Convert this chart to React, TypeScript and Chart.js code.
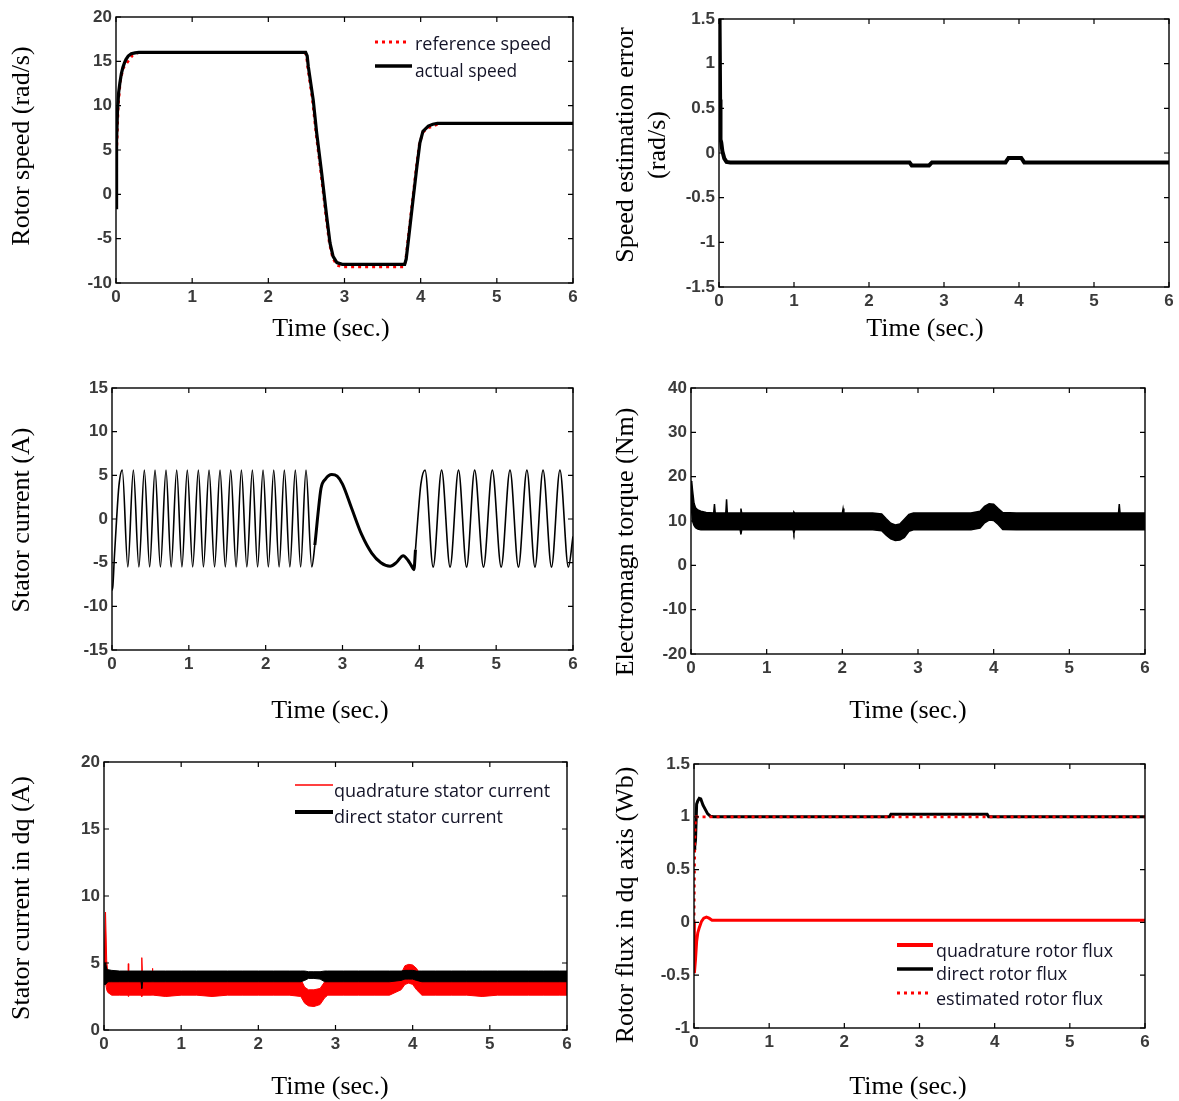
import React, { useEffect, useRef } from 'react';
import { Chart, registerables } from 'chart.js';

Chart.register(...registerables);

// ---------------- shared axis ticks ----------------
const timeTicks = [0, 1, 2, 3, 4, 5, 6];

// ---------------- Panel 1: rotor speed ----------------
const actualTime = [0, 0.005, 0.01, 0.02, 0.035, 0.05, 0.07, 0.09, 0.11, 0.13, 0.16, 0.2, 0.25, 0.3, 2.49, 2.51, 2.525, 2.59, 2.635, 2.7, 2.766, 2.81, 2.85, 2.9, 2.97, 3.02, 3.79, 3.81, 3.84, 3.9, 3.95, 3.99, 4.03, 4.1, 4.16, 4.22, 6.0];
const actualSpeed = [-1.5, 2, 6, 9.5, 11.5, 12.5, 13.6, 14.3, 14.8, 15.2, 15.6, 15.85, 15.95, 16.0, 16.0, 15.6, 14.4, 10.6, 6.9, 2.4, -2.5, -5.5, -7.0, -7.7, -7.9, -7.9, -7.9, -7.3, -5.1, -0.6, 3.1, 5.8, 7.1, 7.7, 7.9, 8.0, 8.0];
const refTime = [0, 0.01, 0.03, 0.06, 0.1, 0.16, 0.22, 0.3, 2.48, 2.5, 2.515, 2.577, 2.625, 2.69, 2.756, 2.8, 2.845, 2.9, 2.97, 3.78, 3.8, 3.83, 3.89, 3.94, 3.98, 4.03, 4.1, 4.17, 4.22, 4.3, 6.0];
const refSpeed = [0, 5, 10, 13, 14.3, 15.0, 15.7, 16.0, 16.0, 15.6, 14.4, 10.75, 6.9, 2.4, -2.5, -5.5, -7.2, -8.0, -8.2, -8.2, -7.6, -5.3, -0.8, 2.9, 5.6, 7.0, 7.5, 7.7, 7.9, 8.0, 8.0];

// ---------------- Panel 2: speed estimation error ----------------
const errTime = [0, 0.008, 0.015, 0.02, 0.03, 0.045, 0.07, 0.1, 0.15, 2.54, 2.57, 2.8, 2.84, 3.82, 3.86, 4.03, 4.07, 6.0];
const errValue = [1.5, 1.45, 0.6, 0.15, 0.12, 0.02, -0.06, -0.1, -0.105, -0.105, -0.14, -0.14, -0.105, -0.105, -0.055, -0.055, -0.105, -0.105];

// ---------------- Panel 3: stator current ----------------
const statorTime = [
  0, 0.012, 0.03, 0.06, 0.09, 0.134,
  0.206, 0.278, 0.35, 0.421, 0.49, 0.56, 0.63, 0.703, 0.77, 0.842, 0.91, 0.98, 1.05, 1.124, 1.19, 1.263, 1.335, 1.406,
  1.475, 1.545, 1.615, 1.684, 1.755, 1.827, 1.895, 1.966, 2.035, 2.105, 2.175, 2.243, 2.315, 2.386, 2.455, 2.525, 2.6,
  2.64, 2.68, 2.72, 2.78, 2.86, 2.93, 3.0, 3.12, 3.25, 3.38, 3.5, 3.62, 3.7, 3.79, 3.85, 3.9, 3.93,
  3.95, 3.98, 4.02, 4.074, 4.18, 4.29, 4.4, 4.51, 4.615, 4.72, 4.835, 4.95, 5.065, 5.18, 5.29, 5.4, 5.505, 5.61, 5.72, 5.83, 5.94, 6.0,
];
const statorCurrent = [
  -8.2, -7.6, -4.5, 0, 3.8, 5.6,
  -5.5, 5.6, -5.5, 5.6, -5.5, 5.6, -5.5, 5.6, -5.5, 5.6, -5.5, 5.6, -5.5, 5.6, -5.5, 5.6, -5.5, 5.6,
  -5.5, 5.6, -5.5, 5.6, -5.5, 5.6, -5.5, 5.6, -5.5, 5.6, -5.5, 5.6, -5.5, 5.6, -5.5, 5.6, -5.5,
  -3.0, 0.5, 3.5, 4.6, 5.1, 4.9, 4.0, 1.2, -1.8, -3.9, -5.0, -5.4, -5.0, -4.2, -4.7, -5.4, -5.8,
  -3.5, 0, 4.0, 5.6, -5.5, 5.6, -5.5, 5.6, -5.5, 5.6, -5.5, 5.6, -5.5, 5.6, -5.5, 5.6, -5.5, 5.6, -5.5, 5.6, -5.5, -2.0,
];

// ---------------- Panel 4: electromagnetic torque (noise band envelope) ----------------
const torqueTime = [0, 0.01, 0.02, 0.04, 0.06, 0.09, 0.13, 0.2, 0.3, 0.31, 0.32, 0.46, 0.47, 0.48, 0.6, 0.65, 0.66, 0.67, 0.8, 1.0, 1.2, 1.35, 1.36, 1.37, 1.5, 1.7, 1.9, 2.0, 2.01, 2.02, 2.2, 2.4, 2.52, 2.58, 2.64, 2.7, 2.76, 2.82, 2.88, 2.94, 3.1, 3.3, 3.5, 3.7, 3.82, 3.88, 3.94, 4.0, 4.06, 4.12, 4.3, 4.5, 4.7, 4.9, 5.1, 5.3, 5.5, 5.65, 5.66, 5.67, 5.85, 6.0];
const torqueUpper = [19, 18.8, 17, 14, 13, 12.5, 12.2, 11.9, 11.8, 13.8, 11.8, 11.8, 14.9, 11.8, 11.8, 11.8, 12.8, 11.8, 11.8, 11.8, 11.8, 11.8, 12.0, 11.8, 11.8, 11.8, 11.8, 11.8, 12.8, 11.8, 11.8, 11.8, 11.6, 10.5, 9.5, 9.1, 9.3, 10.4, 11.5, 11.8, 11.8, 11.8, 11.8, 11.8, 12.2, 13.3, 13.9, 13.8, 12.8, 11.9, 11.8, 11.8, 11.8, 11.8, 11.8, 11.8, 11.8, 11.8, 13.8, 11.8, 11.8, 11.8];
const torqueLower = [15, 12, 10, 9, 8.5, 8.2, 8.0, 8.0, 8.0, 8.0, 8.0, 8.0, 8.0, 8.0, 8.0, 8.0, 7.0, 8.0, 8.0, 8.0, 8.0, 8.0, 7.2, 8.0, 8.0, 8.0, 8.0, 8.0, 8.0, 8.0, 8.0, 8.0, 7.8, 6.8, 6.0, 5.6, 5.7, 6.3, 7.7, 8.0, 8.0, 8.0, 8.0, 8.0, 8.4, 9.6, 10.2, 10.1, 9.2, 8.1, 8.0, 8.0, 8.0, 8.0, 8.0, 8.0, 8.0, 8.0, 8.0, 8.0, 8.0, 8.0];

// ---------------- Panel 5: dq stator currents (noise band envelopes) ----------------
const dqTime = [0, 0.02, 0.025, 0.035, 0.05, 0.1, 0.2, 0.31, 0.315, 0.32, 0.48, 0.49, 0.5, 0.62, 0.63, 0.64, 0.8, 1.0, 1.2, 1.4, 1.6, 1.8, 2.0, 2.2, 2.4, 2.55, 2.6, 2.65, 2.72, 2.8, 2.86, 2.9, 3.1, 3.3, 3.5, 3.7, 3.85, 3.9, 3.95, 4.0, 4.05, 4.12, 4.3, 4.5, 4.7, 4.9, 5.1, 5.3, 5.5, 5.7, 5.9, 6.0];
const quadUpper = [4.5, 8.8, 8.8, 5.2, 4.2, 3.9, 3.9, 3.9, 4.95, 3.9, 3.9, 5.4, 3.9, 3.9, 4.6, 3.9, 3.9, 3.9, 3.9, 3.9, 3.9, 3.9, 3.9, 3.9, 3.9, 3.8, 3.2, 3.0, 3.0, 3.1, 3.6, 3.8, 3.9, 3.9, 3.9, 3.9, 4.2, 4.8, 4.9, 4.85, 4.6, 3.9, 3.9, 3.9, 3.9, 3.9, 3.9, 3.9, 3.9, 3.9, 3.9, 3.9];
const quadLower = [3.5, 3.5, 3.5, 3.0, 2.8, 2.6, 2.6, 2.6, 2.5, 2.6, 2.6, 2.5, 2.6, 2.6, 2.6, 2.6, 2.5, 2.6, 2.6, 2.5, 2.6, 2.6, 2.6, 2.6, 2.6, 2.5, 2.0, 1.8, 1.75, 1.9, 2.4, 2.6, 2.6, 2.6, 2.6, 2.6, 3.0, 3.4, 3.5, 3.4, 3.0, 2.6, 2.6, 2.6, 2.6, 2.5, 2.6, 2.6, 2.6, 2.6, 2.6, 2.6];
const directUpper = [5.0, 5.0, 5.0, 4.6, 4.5, 4.45, 4.4, 4.4, 4.4, 4.4, 4.4, 4.4, 4.4, 4.4, 4.4, 4.4, 4.4, 4.4, 4.4, 4.4, 4.4, 4.4, 4.4, 4.4, 4.4, 4.4, 4.4, 4.35, 4.35, 4.35, 4.4, 4.4, 4.4, 4.4, 4.4, 4.4, 4.4, 4.45, 4.45, 4.45, 4.4, 4.4, 4.4, 4.4, 4.4, 4.4, 4.4, 4.4, 4.4, 4.4, 4.4, 4.4];
const directLower = [3.4, 3.4, 3.4, 3.5, 3.6, 3.6, 3.6, 3.6, 3.6, 3.6, 3.6, 3.1, 3.6, 3.6, 3.6, 3.6, 3.6, 3.6, 3.6, 3.6, 3.6, 3.6, 3.6, 3.6, 3.6, 3.6, 3.7, 3.85, 3.85, 3.8, 3.6, 3.6, 3.6, 3.6, 3.6, 3.6, 3.7, 3.8, 3.8, 3.8, 3.7, 3.6, 3.6, 3.6, 3.6, 3.6, 3.6, 3.6, 3.6, 3.6, 3.6, 3.6];

// ---------------- Panel 6: rotor flux ----------------
const directFluxTime = [0, 0.01, 0.02, 0.035, 0.05, 0.07, 0.09, 0.12, 0.15, 0.18, 0.22, 0.26, 2.6, 2.62, 3.9, 3.92, 6.0];
const directFlux = [0.7, 0.72, 0.78, 1.12, 1.15, 1.175, 1.17, 1.11, 1.07, 1.03, 1.005, 1.0, 1.0, 1.025, 1.025, 1.0, 1.0];
const quadFluxTime = [0, 0.005, 0.02, 0.035, 0.05, 0.07, 0.1, 0.13, 0.165, 0.2, 0.24, 6.0];
const quadFlux = [0, -0.48, -0.35, -0.18, -0.1, -0.05, 0.01, 0.04, 0.05, 0.04, 0.02, 0.02];
const estFluxTime = [0, 0.005, 0.01, 0.015, 0.02, 0.03, 6.0];
const estFlux = [0, 0.45, 0.75, 0.9, 0.97, 1.0, 1.0];

// ---------------- styling ----------------
const TICK_FONT = { family: "'Liberation Sans', Arial, sans-serif", size: 17, weight: 'bold' };
const TICK_COLOR = '#3a3a3a';
const TITLE_FONT = "26px 'Liberation Serif', 'Times New Roman', serif";
const LEGEND_FONT = "18px 'Open Sans', 'Noto Sans', sans-serif";

const pts = (t: number[], v: number[]) => t.map((x, i) => ({ x, y: v[i] }));

const line = (data: any, color: string, width: number, extra: any = {}) => ({
  data,
  borderColor: color,
  backgroundColor: color,
  borderWidth: width,
  pointRadius: 0,
  fill: false,
  tension: 0,
  ...extra,
});

const panels: any[] = [
  {
    id: 'p1',
    box: { left: 0, top: 0, w: 592, h: 365 },
    plot: { l: 116, t: 17, r: 573, b: 283 },
    y: { min: -10, max: 20, step: 5 },
    datasets: () => [
      line(pts(actualTime, actualSpeed), '#000', 3.2),
      line(pts(refTime, refSpeed), '#ff0000', 2.6, { borderDash: [3, 4] }),
    ],
    titles: [
      { text: 'Rotor speed (rad/s)', x: 22, y: 146, rot: true },
      { text: 'Time (sec.)', x: 331, y: 329 },
    ],
    legend: [
      { x1: 375, x2: 407, y: 42, color: '#ff0000', width: 3, dash: [3, 4], text: 'reference speed', tx: 415, ty: 45, tw: 138 },
      { x1: 375, x2: 412, y: 66, color: '#000', width: 3.5, text: 'actual speed', tx: 415, ty: 72, tw: 102 },
    ],
  },
  {
    id: 'p2',
    box: { left: 595, top: 0, w: 584, h: 365 },
    plot: { l: 719, t: 19, r: 1169, b: 287 },
    y: { min: -1.5, max: 1.5, step: 0.5 },
    datasets: () => [line(pts(errTime, errValue), '#000', 4)],
    titles: [
      { text: 'Speed estimation error', x: 626, y: 145, rot: true },
      { text: '(rad/s)', x: 658, y: 145, rot: true },
      { text: 'Time (sec.)', x: 925, y: 329 },
    ],
    legend: [],
  },
  {
    id: 'p3',
    box: { left: 0, top: 365, w: 592, h: 375 },
    plot: { l: 112, t: 388, r: 573, b: 650 },
    y: { min: -15, max: 15, step: 5 },
    datasets: () => [
      line(pts(statorTime, statorCurrent), '#000', 1.6, {
        cubicInterpolationMode: 'monotone',
        segment: {
          borderWidth: (c: any) => (c.p0.parsed.x >= 2.64 && c.p1.parsed.x <= 3.95 ? 3 : 1.6),
        },
      }),
    ],
    titles: [
      { text: 'Stator current (A)', x: 22, y: 520, rot: true },
      { text: 'Time (sec.)', x: 330, y: 711 },
    ],
    legend: [],
  },
  {
    id: 'p4',
    box: { left: 595, top: 365, w: 584, h: 375 },
    plot: { l: 691, t: 388, r: 1145, b: 654 },
    y: { min: -20, max: 40, step: 10 },
    datasets: () => [
      line(pts(torqueTime, torqueUpper), '#000', 1.5, { fill: '+1' }),
      line(pts(torqueTime, torqueLower), '#000', 1.5),
    ],
    titles: [
      { text: 'Electromagn torque (Nm)', x: 626, y: 542, rot: true },
      { text: 'Time (sec.)', x: 908, y: 711 },
    ],
    legend: [],
  },
  {
    id: 'p5',
    box: { left: 0, top: 740, w: 592, h: 361 },
    plot: { l: 104, t: 762, r: 567, b: 1030 },
    y: { min: 0, max: 20, step: 5 },
    datasets: () => [
      line(pts(dqTime, directUpper), '#000', 1, { fill: '+1' }),
      line(pts(dqTime, directLower), '#000', 1),
      line(pts(dqTime, quadUpper), '#ff0000', 1, { fill: '+1' }),
      line(pts(dqTime, quadLower), '#ff0000', 1),
    ],
    titles: [
      { text: 'Stator current in dq (A)', x: 22, y: 898, rot: true },
      { text: 'Time (sec.)', x: 330, y: 1087 },
    ],
    legend: [
      { x1: 295, x2: 333, y: 785, color: '#ff0000', width: 1.6, text: 'quadrature stator current', tx: 334, ty: 792, tw: 221 },
      { x1: 295, x2: 333, y: 812, color: '#000', width: 4, text: 'direct stator current', tx: 334, ty: 818, tw: 176 },
    ],
  },
  {
    id: 'p6',
    box: { left: 595, top: 740, w: 584, h: 361 },
    plot: { l: 694, t: 764, r: 1145, b: 1028 },
    y: { min: -1, max: 1.5, step: 0.5 },
    datasets: () => [
      line(pts(estFluxTime, estFlux), '#ff0000', 2.8, { borderDash: [3, 4] }),
      line(pts(directFluxTime, directFlux), '#000', 3),
      line(pts(quadFluxTime, quadFlux), '#ff0000', 3),
    ],
    titles: [
      { text: 'Rotor flux in dq axis (Wb)', x: 626, y: 905, rot: true },
      { text: 'Time (sec.)', x: 908, y: 1087 },
    ],
    legend: [
      { x1: 897, x2: 933, y: 945, color: '#ff0000', width: 4, text: 'quadrature rotor flux', tx: 936, ty: 952, tw: 177 },
      { x1: 897, x2: 933, y: 969, color: '#000', width: 3.5, text: 'direct rotor flux', tx: 936, ty: 975, tw: 134 },
      { x1: 897, x2: 931, y: 993, color: '#ff0000', width: 3, dash: [3, 4], text: 'estimated rotor flux', tx: 936, ty: 1000, tw: 167 },
    ],
  },
];

const fmtTick = (v: any) => String(Math.round(Number(v) * 100) / 100);

function Panel({ cfg }: { cfg: any }) {
  const ref = useRef<HTMLCanvasElement | null>(null);
  useEffect(() => {
    const canvas = ref.current;
    if (!canvas) return;
    const { box, plot } = cfg;
    const ox = box.left;
    const oy = box.top;
    const decor = {
      id: 'decor_' + cfg.id,
      afterDraw(chart: any) {
        const { ctx, chartArea: a, scales } = chart;
        ctx.save();
        // frame
        ctx.strokeStyle = '#000';
        ctx.lineWidth = 1.4;
        ctx.setLineDash([]);
        ctx.strokeRect(a.left, a.top, a.right - a.left, a.bottom - a.top);
        // inward ticks on all four sides
        const L = 5;
        ctx.beginPath();
        scales.x.ticks.forEach((tk: any) => {
          const px = scales.x.getPixelForValue(tk.value);
          ctx.moveTo(px, a.bottom);
          ctx.lineTo(px, a.bottom - L);
          ctx.moveTo(px, a.top);
          ctx.lineTo(px, a.top + L);
        });
        scales.y.ticks.forEach((tk: any) => {
          const py = scales.y.getPixelForValue(tk.value);
          ctx.moveTo(a.left, py);
          ctx.lineTo(a.left + L, py);
          ctx.moveTo(a.right, py);
          ctx.lineTo(a.right - L, py);
        });
        ctx.lineWidth = 1.2;
        ctx.stroke();
        // legend
        cfg.legend.forEach((it: any) => {
          ctx.save();
          ctx.strokeStyle = it.color;
          ctx.lineWidth = it.width;
          ctx.setLineDash(it.dash || []);
          ctx.beginPath();
          ctx.moveTo(it.x1 - ox, it.y - oy);
          ctx.lineTo(it.x2 - ox, it.y - oy);
          ctx.stroke();
          ctx.setLineDash([]);
          ctx.fillStyle = '#141428';
          ctx.font = LEGEND_FONT;
          ctx.textAlign = 'left';
          ctx.textBaseline = 'middle';
          ctx.fillText(it.text, it.tx - ox, it.ty - oy, it.tw);
          ctx.restore();
        });
        // axis titles
        cfg.titles.forEach((t: any) => {
          ctx.save();
          ctx.fillStyle = '#000';
          ctx.font = TITLE_FONT;
          ctx.textAlign = 'center';
          ctx.textBaseline = 'middle';
          ctx.translate(t.x - ox, t.y - oy);
          if (t.rot) ctx.rotate(-Math.PI / 2);
          ctx.fillText(t.text, 0, 0);
          ctx.restore();
        });
        ctx.restore();
      },
    };
    const chart = new Chart(canvas, {
      type: 'line',
      data: { datasets: cfg.datasets() },
      options: {
        animation: false,
        responsive: false,
        maintainAspectRatio: false,
        devicePixelRatio: 1,
        layout: {
          padding: {
            top: plot.t - box.top,
            right: box.left + box.w - plot.r,
            left: 0,
            bottom: 0,
          },
        },
        plugins: { legend: { display: false }, tooltip: { enabled: false } },
        elements: { point: { radius: 0 } },
        scales: {
          x: {
            type: 'linear',
            min: 0,
            max: 6,
            grid: { display: false, drawTicks: false },
            border: { display: false },
            afterBuildTicks: (s: any) => {
              s.ticks = timeTicks.map((v) => ({ value: v }));
            },
            ticks: { padding: 4, font: TICK_FONT, color: TICK_COLOR, maxRotation: 0, autoSkip: false, callback: fmtTick },
            afterFit: (s: any) => {
              s.height = box.top + box.h - plot.b;
            },
          },
          y: {
            type: 'linear',
            min: cfg.y.min,
            max: cfg.y.max,
            grid: { display: false, drawTicks: false },
            border: { display: false },
            ticks: { stepSize: cfg.y.step, padding: 4, font: TICK_FONT, color: TICK_COLOR, autoSkip: false, callback: fmtTick },
            afterFit: (s: any) => {
              s.width = plot.l - box.left;
            },
          },
        },
      } as any,
      plugins: [decor],
    });
    return () => chart.destroy();
  }, [cfg]);
  return (
    <canvas
      ref={ref}
      width={cfg.box.w}
      height={cfg.box.h}
      style={{ position: 'absolute', left: cfg.box.left, top: cfg.box.top, width: cfg.box.w, height: cfg.box.h }}
    />
  );
}

export default function App() {
  return (
    <div style={{ position: 'absolute', left: 0, top: 0, width: 1179, height: 1101, background: '#fff', overflow: 'hidden' }}>
      {panels.map((p) => (
        <Panel key={p.id} cfg={p} />
      ))}
    </div>
  );
}
